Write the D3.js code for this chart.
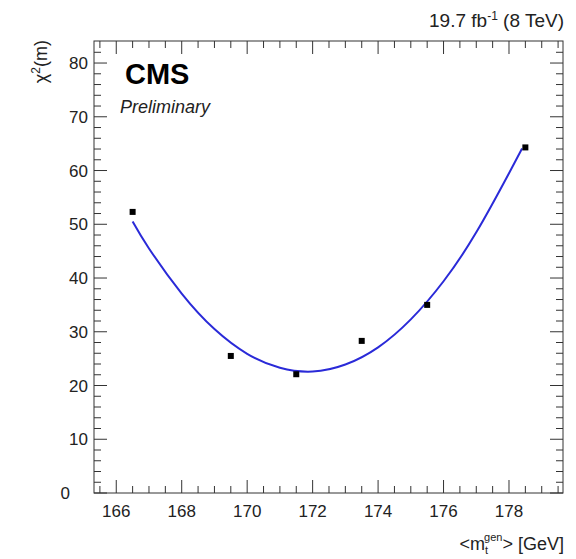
<!DOCTYPE html>
<html>
<head>
<meta charset="utf-8">
<script src="https://cdn.jsdelivr.net/npm/d3@7"></script>
<style>
  body { margin: 0; background: #fff; }
  text { font-family: "Liberation Sans", Arial, sans-serif; fill: #222; }
</style>
</head>
<body>
<div id="chart"></div>
<script>
// measured points
const massPoints = [166.5, 169.5, 171.5, 173.5, 175.5, 178.5];
const chi2Values = [52.3, 25.5, 22.1, 28.3, 35.0, 64.3];

// fitted curve
const fitMass = [166.5, 167, 168, 169, 170, 171, 172, 173, 174, 175, 176, 177, 178, 178.4];
const fitChi2 = [50.5, 45.5, 37.1, 30.5, 25.9, 23.3, 22.6, 23.9, 27.1, 32.3, 39.4, 48.5, 59.5, 64.1];

const xTicks = [166, 168, 170, 172, 174, 176, 178];
const yTicks = [0, 10, 20, 30, 40, 50, 60, 70, 80];

const W = 576, H = 559;
const plotL = 94, plotR = 563, plotT = 41, plotB = 493;

const svg = d3.select("#chart").append("svg")
    .attr("width", W)
    .attr("height", H);

const x = d3.scaleLinear().domain([165.32, 179.65]).range([plotL, plotR]);
const y = d3.scaleLinear().domain([0, 84.1]).range([plotB, plotT]);

// minor ticks
const xMinor = d3.range(165.5, 179.6, 0.5).filter(v => !xTicks.includes(v));
const yMinor = d3.range(2, 84, 2).filter(v => !yTicks.includes(v));

const axisColor = "#333";
const g = svg.append("g").attr("stroke", axisColor).attr("stroke-width", 1);

// frame
g.append("rect")
    .attr("x", plotL).attr("y", plotT)
    .attr("width", plotR - plotL).attr("height", plotB - plotT)
    .attr("fill", "none");

// x ticks (bottom + top, inward)
const xt = [...xTicks.map(v => [v, 13]), ...xMinor.map(v => [v, 7])];
xt.forEach(([v, len]) => {
    g.append("line").attr("x1", x(v)).attr("x2", x(v)).attr("y1", plotB).attr("y2", plotB - len);
    g.append("line").attr("x1", x(v)).attr("x2", x(v)).attr("y1", plotT).attr("y2", plotT + len);
});
// y ticks (left + right, inward)
const yt = [...yTicks.map(v => [v, 13]), ...yMinor.map(v => [v, 7])];
yt.forEach(([v, len]) => {
    g.append("line").attr("y1", y(v)).attr("y2", y(v)).attr("x1", plotL).attr("x2", plotL + len);
    g.append("line").attr("y1", y(v)).attr("y2", y(v)).attr("x1", plotR).attr("x2", plotR - len);
});

// tick labels
svg.append("g").selectAll("text").data(xTicks).enter().append("text")
    .attr("x", d => x(d)).attr("y", 517)
    .attr("text-anchor", "middle")
    .attr("font-size", 17)
    .text(d => d);

// ROOT pushes the "0" label left so it clears the x labels
svg.append("g").selectAll("text").data(yTicks).enter().append("text")
    .attr("x", d => d === 0 ? 70 : 88)
    .attr("y", d => y(d) + 6)
    .attr("text-anchor", "end")
    .attr("font-size", 17)
    .text(d => d);

// fit curve
const line = d3.line()
    .x((d, i) => x(fitMass[i]))
    .y((d, i) => y(fitChi2[i]))
    .curve(d3.curveNatural);
svg.append("path")
    .attr("d", line(fitMass))
    .attr("fill", "none")
    .attr("stroke", "#2a2ad8")
    .attr("stroke-width", 2);

// points
svg.append("g").selectAll("rect").data(massPoints).enter().append("rect")
    .attr("x", (d) => x(d) - 3)
    .attr("y", (d, i) => y(chi2Values[i]) - 3)
    .attr("width", 6).attr("height", 6)
    .attr("fill", "#000");

// labels
svg.append("text")
    .attr("x", 125).attr("y", 84)
    .attr("font-size", 29).attr("font-weight", "bold")
    .style("fill", "#000")
    .text("CMS");
svg.append("text")
    .attr("x", 120).attr("y", 113)
    .attr("font-size", 18).attr("font-style", "italic")
    .text("Preliminary");

const lumi = svg.append("text")
    .attr("x", 564).attr("y", 27)
    .attr("text-anchor", "end")
    .attr("font-size", 19);
lumi.append("tspan").text("19.7 fb");
lumi.append("tspan").attr("font-size", 12).attr("dy", -7).text("-1");
lumi.append("tspan").attr("dy", 7).text(" (8 TeV)");

const ylab = svg.append("text")
    .attr("transform", "translate(47,40) rotate(-90)")
    .attr("text-anchor", "end")
    .attr("font-size", 18);
ylab.append("tspan").text("\u03c7");
ylab.append("tspan").attr("font-size", 12).attr("dy", -7).text("2");
ylab.append("tspan").attr("dy", 7).text("(m)");

const xlab = svg.append("text")
    .attr("x", 564).attr("y", 550)
    .attr("text-anchor", "end")
    .attr("font-size", 18);
xlab.append("tspan").text("<m");
xlab.append("tspan").attr("font-size", 11).attr("dy", 4).text("t");
xlab.append("tspan").attr("font-size", 11).attr("dx", -4).attr("dy", -13).text("gen");
xlab.append("tspan").attr("dy", 9).text("> [GeV]");
</script>
</body>
</html>
